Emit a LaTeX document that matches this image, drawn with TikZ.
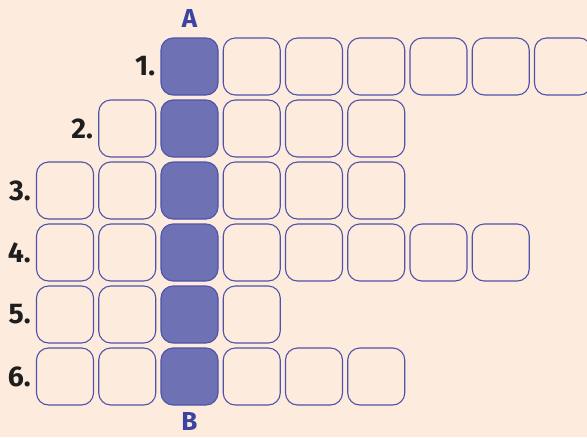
\documentclass[tikz,border=0pt]{standalone}
\usepackage{fontspec}
\setmainfont{Fira Sans}
\definecolor{bg}{RGB}{253,236,222}
\definecolor{edge}{RGB}{78,82,168}
\definecolor{keyfill}{RGB}{110,114,180}
\definecolor{numcol}{RGB}{30,30,30}
\definecolor{letcol}{RGB}{60,68,160}
\begin{document}
\begin{tikzpicture}[x=1pt,y=-1pt,
  cell/.style={draw=edge, line width=1.1pt, rounded corners=12pt, minimum size=57pt, inner sep=0pt},
  key/.style={cell, fill=keyfill},
  num/.style={font=\fontsize{28.5}{28.5}\selectfont\bfseries, text=numcol, anchor=east, inner sep=0pt},
  lab/.style={font=\fontsize{26}{26}\selectfont\bfseries, text=letcol, inner sep=0pt}]
\useasboundingbox (0,0) rectangle (587,437);
\fill[bg] (0,0) rectangle (587,437);
\foreach \r/\a/\b in {1/2/8, 2/1/5, 3/0/5, 4/0/7, 5/0/3, 6/0/5} {
  \foreach \c in {\a,...,\b} {
    \ifnum\c=2 \def\st{key}\else\def\st{cell}\fi
    \node[\st] (c\r-\c) at ({65+62.25*\c},{66.5+62*(\r-1)}) {};
  }
  \node[num] (n\r) at ([xshift=-5pt]c\r-\a.west) {\r.};
}
\node[lab] (A) at ([yshift=18.5pt]c1-2.north) {A};
\node[lab] (B) at ([yshift=-16pt]c6-2.south) {B};
\end{tikzpicture}
\end{document}
